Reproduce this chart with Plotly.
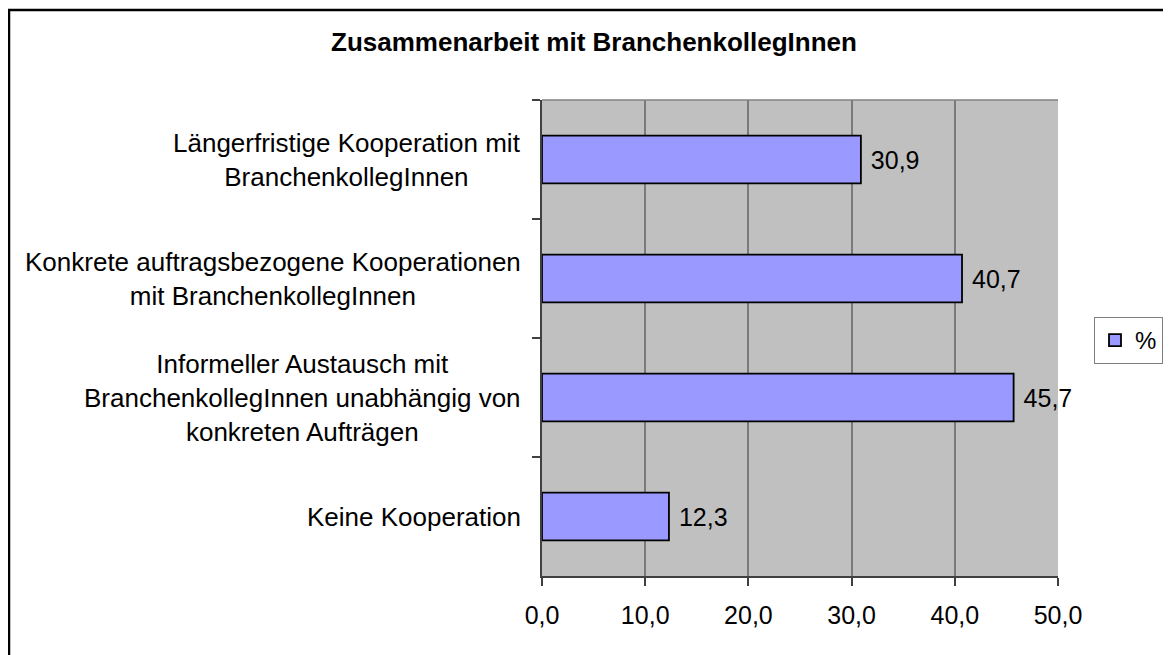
import plotly.graph_objects as go

# Data (display order: top to bottom)
categories = [
    "Längerfristige Kooperation mit<br>BranchenkollegInnen",
    "Konkrete auftragsbezogene Kooperationen<br>mit BranchenkollegInnen",
    "Informeller Austausch mit<br>BranchenkollegInnen unabhängig von<br>konkreten Aufträgen",
    "Keine Kooperation",
]
values = [30.9, 40.7, 45.7, 12.3]
series_name = "%"
title_text = "Zusammenarbeit mit BranchenkollegInnen"
x_ticks = [0, 10, 20, 30, 40, 50]

FONT = "Liberation Sans, Arial, sans-serif"
OFF = 8  # default page body margin
W, H = 1171 - OFF, 655 - OFF
# plot area in page pixels
L, R, T, B = 542, 1058, 100, 576

labels = [f"{v:.1f}".replace(".", ",") for v in values]

fig = go.Figure()
fig.add_trace(go.Bar(
    x=values, y=categories, orientation="h", name=series_name,
    marker=dict(color="#9999FF", line=dict(color="black", width=1.8)),
    text=labels, texttemplate="\u00a0%{text}", textposition="outside", constraintext="none",
    textfont=dict(family=FONT, size=25, color="black"),
    cliponaxis=False, showlegend=True,
))

def px_x(p):
    return (p - L) / (R - L)

def px_y(p):
    return (B - p) / (B - T)

annotations = []
for c in categories:
    annotations.append(dict(
        x=0, xref="paper", y=c, yref="y", text=c, showarrow=False,
        xanchor="right", yanchor="middle", align="center", xshift=-19,
        font=dict(family=FONT, size=26, color="black"),
    ))

shapes = [
    dict(type="line", xref="paper", yref="paper", x0=0, x1=1, y0=1, y1=1,
         line=dict(color="#808080", width=1.5)),
    dict(type="rect", xref="paper", yref="paper",
         x0=px_x(9), x1=px_x(1190), y0=px_y(10), y1=px_y(680),
         line=dict(color="black", width=2.5), fillcolor="rgba(0,0,0,0)", layer="above"),
]

fig.update_layout(
    width=W, height=H,
    margin=dict(l=L - OFF, r=W - (R - OFF), t=T - OFF, b=H - (B - OFF), autoexpand=False),
    paper_bgcolor="white", plot_bgcolor="#C0C0C0",
    separators=",.",
    font=dict(family=FONT, size=25, color="black"),
    title=dict(text=f"<b>{title_text}</b>", xref="container", yref="container",
               x=(594 - OFF) / W, y=1 - (42 - OFF) / H, xanchor="center", yanchor="middle",
               font=dict(family=FONT, size=26, color="black")),
    bargap=0.6,
    showlegend=True,
    legend=dict(x=px_x(1094), y=px_y(317), xanchor="left", yanchor="top",
                bordercolor="#808080", borderwidth=1, bgcolor="white",
                font=dict(family=FONT, size=24, color="black"),
                itemwidth=30),
    annotations=annotations,
    shapes=shapes,
)
fig.update_xaxes(
    range=[0, 50], tickvals=x_ticks, tickformat=".1f",
    showgrid=True, gridcolor="#7a7a7a", gridwidth=1.5,
    showline=True, linecolor="#404040", linewidth=2,
    ticks="outside", ticklen=8, tickcolor="#404040", tickwidth=1.5,
    ticklabelstandoff=8,
    tickfont=dict(family=FONT, size=25, color="black"),
    zeroline=False,
)
fig.update_yaxes(
    autorange="reversed", showticklabels=False,
    tickson="boundaries", ticks="outside", ticklen=8, tickcolor="#404040", tickwidth=1.5,
    showline=True, linecolor="#404040", linewidth=2, showgrid=False,
)

fig.write_html("out.html")
